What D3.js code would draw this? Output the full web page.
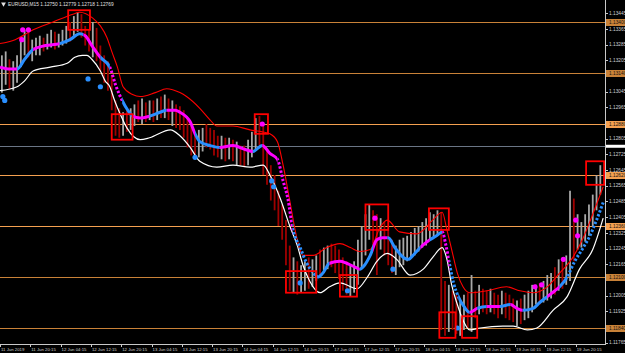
<!DOCTYPE html>
<html>
<head>
<meta charset="utf-8">
<script src="https://cdn.jsdelivr.net/npm/d3@7"></script>
<style>
  html, body { margin: 0; padding: 0; background: #000; overflow: hidden; }
  svg { display: block; }
</style>
</head>
<body>
<svg id="chart" width="625" height="353"></svg>
<script>
// ---- data ----
const title = 'EURUSD,M15  1.12750 1.12779 1.12718 1.12769';
const timeIdx = [0, 32, 64, 96, 128, 160, 192, 224, 256, 288, 320, 352, 384, 416, 448, 480, 512, 544, 576, 608];
const timeLabels = ['11 Jun 2019', '11 Jun 20:15', '12 Jun 04:15', '12 Jun 12:15', '12 Jun 20:15', '13 Jun 04:15',
  '13 Jun 12:15', '13 Jun 20:15', '14 Jun 04:15', '14 Jun 12:15', '14 Jun 20:15', '17 Jun 04:15', '17 Jun 12:15',
  '17 Jun 20:15', '18 Jun 04:15', '18 Jun 12:15', '18 Jun 20:15', '19 Jun 04:15', '19 Jun 12:15', '19 Jun 20:15'];
const priceTicks = [1.11765, 1.11845, 1.11925, 1.12005, 1.12085, 1.12165, 1.12245, 1.12325, 1.12405, 1.12485, 1.12565,
  1.12645, 1.12725, 1.12805, 1.12885, 1.12965, 1.13045, 1.13125, 1.13205, 1.13285, 1.13365, 1.13445];
const levels = [1.13400, 1.13140, 1.12880, 1.12620, 1.12360, 1.12100, 1.11840];
const levelBright = [false, false, true, true, true, false, false];
const bidPrice = 1.12769;

// hourly-ish bars (each one drawn at M15 index k*4+2)
const barHigh = [
  1.1323,1.1325,1.1321,1.1320,1.1323,1.1332,1.1336,1.1335,1.1331,1.1332,
  1.1333,1.1332,1.1334,1.1336,1.1335,1.1334,1.1336,1.1338,1.1340,1.1343,
  1.1345,1.1344,1.1338,1.1336,1.1340,1.1337,1.1328,1.1323,1.1320,1.1313,
  1.1300,1.1296,1.1294,1.1295,1.1296,1.1298,1.1300,1.1301,1.1299,1.1300,
  1.1300,1.1301,1.1302,1.1303,1.1301,1.1300,1.1298,1.1297,1.1295,1.1291,
  1.1287,1.1284,1.1285,1.1286,1.1288,1.1286,1.1285,1.1282,1.1282,1.1281,
  1.1281,1.1280,1.1279,1.1277,1.1277,1.1280,1.1284,1.1291,1.1292,1.1287,
  1.1275,1.1267,1.1262,1.1254,1.1247,1.1239,1.1226,1.1220,1.1218,1.1216,
  1.1218,1.1220,1.1219,1.1221,1.1224,1.1225,1.1226,1.1227,1.1226,1.1224,
  1.1220,1.1218,1.1216,1.1218,1.1229,1.1236,1.1242,1.1247,1.1244,1.1242,
  1.1240,1.1238,1.1234,1.1229,1.1226,1.1229,1.1230,1.1231,1.1233,1.1235,
  1.1236,1.1238,1.1240,1.1243,1.1242,1.1244,1.1243,1.1208,1.1206,1.1203,
  1.1201,1.1198,1.1201,1.1202,1.1211,1.1203,1.1206,1.1204,1.1203,1.1204,
  1.1202,1.1201,1.1203,1.1202,1.1201,1.1199,1.1198,1.1199,1.1201,1.1203,
  1.1206,1.1206,1.1207,1.1208,1.1211,1.1212,1.1215,1.1219,1.1220,1.1221,
  1.1254,1.1250,1.1242,1.1238,1.1242,1.1247,1.1252,1.1262,1.1267];
const barLow = [
  1.1304,1.1308,1.1306,1.1305,1.1309,1.1317,1.1323,1.1322,1.1320,1.1323,
  1.1323,1.1325,1.1326,1.1327,1.1326,1.1327,1.1328,1.1329,1.1330,1.1332,
  1.1335,1.1332,1.1328,1.1325,1.1322,1.1320,1.1315,1.1309,1.1305,1.1295,
  1.1282,1.1281,1.1282,1.1284,1.1285,1.1287,1.1289,1.1288,1.1289,1.1290,
  1.1289,1.1290,1.1291,1.1291,1.1290,1.1287,1.1286,1.1285,1.1281,1.1276,
  1.1272,1.1270,1.1271,1.1274,1.1276,1.1275,1.1272,1.1271,1.1270,1.1269,
  1.1270,1.1269,1.1267,1.1267,1.1266,1.1267,1.1271,1.1275,1.1277,1.1262,
  1.1257,1.1249,1.1244,1.1236,1.1229,1.1216,1.1203,1.1202,1.1201,1.1202,
  1.1203,1.1204,1.1205,1.1208,1.1211,1.1212,1.1214,1.1215,1.1212,1.1209,
  1.1203,1.1201,1.1200,1.1202,1.1206,1.1214,1.1221,1.1229,1.1226,1.1211,
  1.1224,1.1221,1.1216,1.1212,1.1211,1.1215,1.1216,1.1218,1.1220,1.1221,
  1.1223,1.1225,1.1226,1.1229,1.1230,1.1231,1.1183,1.1180,1.1182,1.1183,
  1.1181,1.1180,1.1183,1.1184,1.1182,1.1189,1.1191,1.1192,1.1191,1.1192,
  1.1191,1.1189,1.1191,1.1189,1.1188,1.1187,1.1185,1.1186,1.1188,1.1189,
  1.1192,1.1196,1.1196,1.1197,1.1198,1.1199,1.1201,1.1203,1.1204,1.1206,
  1.1208,1.1218,1.1224,1.1225,1.1228,1.1231,1.1236,1.1244,1.1252];
const barClose = [
  1.1316,1.1320,1.1310,1.1315,1.1321,1.1328,1.1331,1.1326,1.1327,1.1329,
  1.1330,1.1328,1.1331,1.1333,1.1329,1.1331,1.1332,1.1335,1.1334,1.1339,
  1.1341,1.1336,1.1331,1.1328,1.1333,1.1323,1.1318,1.1315,1.1308,1.1300,
  1.1287,1.1285,1.1290,1.1287,1.1293,1.1294,1.1291,1.1295,1.1294,1.1296,
  1.1294,1.1298,1.1295,1.1299,1.1294,1.1296,1.1291,1.1290,1.1286,1.1280,
  1.1277,1.1275,1.1280,1.1282,1.1281,1.1279,1.1277,1.1275,1.1276,1.1274,
  1.1276,1.1272,1.1275,1.1271,1.1270,1.1275,1.1280,1.1286,1.1285,1.1270,
  1.1262,1.1254,1.1250,1.1242,1.1234,1.1220,1.1208,1.1214,1.1206,1.1211,
  1.1212,1.1208,1.1215,1.1218,1.1216,1.1220,1.1221,1.1219,1.1218,1.1214,
  1.1208,1.1206,1.1209,1.1214,1.1221,1.1231,1.1236,1.1242,1.1234,1.1229,
  1.1233,1.1226,1.1221,1.1218,1.1220,1.1221,1.1224,1.1226,1.1229,1.1230,
  1.1231,1.1233,1.1235,1.1236,1.1238,1.1240,1.1198,1.1193,1.1196,1.1189,
  1.1188,1.1191,1.1196,1.1193,1.1198,1.1196,1.1199,1.1198,1.1196,1.1198,
  1.1197,1.1196,1.1199,1.1194,1.1192,1.1191,1.1193,1.1191,1.1196,1.1199,
  1.1201,1.1203,1.1202,1.1204,1.1206,1.1208,1.1207,1.1214,1.1211,1.1216,
  1.1239,1.1226,1.1230,1.1233,1.1236,1.1242,1.1247,1.1257,1.1262];

// moving average [M15 index, price]
const maLine = [[0,1.1317],[11,1.1316],[18,1.1316],[26,1.1321],[35,1.1326],[48,1.1328],[63,1.1329],[74,1.1331],[84,1.1334],[90,1.1333],
  [97,1.1328],[106,1.1322],[116,1.1317],[122,1.1308],[129,1.1300],[135,1.1295],[140,1.1292],[148,1.1291],[158,1.1292],[169,1.1294],
  [176,1.1295],[185,1.1295],[190,1.1294],[201,1.1289],[206,1.1283],[211,1.1279],[222,1.1277],[232,1.1276],[246,1.1277],[259,1.1275],
  [267,1.1274],[277,1.1277],[285,1.1273],[293,1.1270],[299,1.1259],[304,1.1250],[309,1.1235],[317,1.1225],[324,1.1217],[331,1.1212],
  [336,1.1210],[341,1.1212],[348,1.1217],[359,1.1218],[366,1.1217],[375,1.1215],[380,1.1214],[385,1.1216],[391,1.1221],[398,1.1229],
  [404,1.1230],[410,1.1230],[417,1.1225],[426,1.1220],[431,1.1219],[438,1.1222],[446,1.1226],[454,1.1229],[461,1.1231],[467,1.1233],
  [471,1.1226],[475,1.1216],[479,1.1207],[484,1.1200],[490,1.1195],[496,1.1192],[504,1.1194],[514,1.1195],[528,1.1195],[539,1.1196],
  [546,1.1194],[552,1.1193],[563,1.1194],[570,1.1197],[578,1.1200],[586,1.1203],[591,1.1205],[599,1.1210],[607,1.1218],[616,1.1225],
  [623,1.1231],[630,1.1239],[637,1.1248]];
// colour runs of the moving average: [from index, to index, colour, dotted]
const maRuns = [[0,18,'m',0],[18,35,'b',0],[35,63,'m',0],[63,88,'b',0],[88,106,'m',0],[106,116,'b',0],[116,129,'m',1],[129,140,'b',0],
  [140,158,'m',0],[158,176,'b',0],[176,206,'m',0],[206,232,'b',0],[232,267,'m',0],[267,277,'b',0],[277,293,'m',0],[293,309,'m',1],
  [309,333,'b',1],[333,348,'b',0],[348,380,'m',0],[380,394,'b',0],[394,409,'m',0],[409,444,'b',0],[444,454,'m',0],[454,467,'b',0],
  [467,475,'m',1],[475,484,'b',1],[484,496,'b',0],[496,504,'m',0],[504,514,'b',0],[514,528,'m',0],[528,539,'b',0],[539,552,'m',0],
  [552,578,'b',0],[578,591,'m',0],[591,599,'b',0],[599,640,'b',1]];

const upperBand = [[0,1.1329],[16,1.1331],[35,1.1336],[56,1.1340],[77,1.1344],[84,1.1345],[98,1.1342],[106,1.1338],[113,1.1332],[118,1.1325],
  [124,1.1317],[130,1.1307],[140,1.1303],[148,1.1302],[164,1.1304],[176,1.1306],[190,1.1304],[197,1.1302],[211,1.1296],[222,1.1290],
  [229,1.1287],[246,1.1287],[264,1.1285],[277,1.1284],[285,1.1283],[293,1.1279],[299,1.1267],[306,1.1249],[313,1.1231],[320,1.1221],
  [331,1.1221],[345,1.1225],[359,1.1227],[370,1.1225],[380,1.1223],[391,1.1224],[401,1.1235],[409,1.1239],[422,1.1233],[440,1.1232],
  [457,1.1239],[467,1.1243],[472,1.1234],[477,1.1224],[483,1.1212],[489,1.1205],[496,1.1202],[514,1.1203],[535,1.1205],[549,1.1203],
  [563,1.1202],[578,1.1205],[591,1.1212],[605,1.1220],[616,1.1230],[626,1.1242],[637,1.1256]];
const lowerBand = [[0,1.1305],[18,1.1307],[26,1.1310],[35,1.1315],[53,1.1317],[71,1.1319],[79,1.1322],[87,1.1323],[92,1.1323],[97,1.1321],
  [106,1.1315],[111,1.1310],[116,1.1307],[121,1.1300],[127,1.1293],[134,1.1286],[148,1.1280],[158,1.1281],[180,1.1285],[190,1.1282],
  [201,1.1276],[211,1.1269],[229,1.1266],[246,1.1267],[264,1.1266],[278,1.1267],[285,1.1262],[296,1.1250],[306,1.1236],[314,1.1226],
  [320,1.1216],[327,1.1208],[338,1.1202],[348,1.1205],[359,1.1207],[377,1.1204],[388,1.1210],[398,1.1218],[409,1.1222],[419,1.1219],
  [433,1.1211],[447,1.1214],[457,1.1220],[467,1.1225],[472,1.1219],[477,1.1206],[483,1.1196],[489,1.1188],[496,1.1183],[507,1.1184],
  [531,1.1185],[542,1.1185],[557,1.1183],[567,1.1184],[584,1.1193],[599,1.1200],[612,1.1214],[626,1.1224],[637,1.1240]];

// signal dots [colour, index, price]
const signals = [['m',24,1.1336],['m',30,1.1336],['m',23,1.1331],['b',3,1.1302],['b',5,1.1300],['b',93,1.1311],['b',106,1.1307],
  ['b',206,1.1271],['m',277,1.1288],['b',287,1.1259],['b',289,1.1256],['b',317,1.1207],['b',367,1.1203],['m',396,1.1240],
  ['b',415,1.1214],['b',483,1.1184],['m',565,1.1205],['m',572,1.1206],['m',595,1.1219],['m',608,1.1239],['m',610,1.1231]];

// red boxes [from index, to index, top price, bottom price]
const boxes = [[72,95,1.1346,1.1336],[118,140,1.1293,1.1280],[269,283,1.1293,1.1283],[302,334,1.1213,1.1202],[359,377,1.1211,1.1200],
  [386,410,1.1247,1.1234],[453,474,1.1245,1.1234],[464,481,1.1192,1.1179],[488,504,1.1190,1.1179],[619,638,1.1269,1.1257]];

// ---- drawing ----
const W = 625, H = 353;
const AXIS_X = 605, AXIS_Y = 344, TOP = 9;
const COLORS = { m: '#ff00ff', b: '#2a8fff' };
const FONT = '"Liberation Sans", Arial, sans-serif';

const svg = d3.select('#chart');
svg.append('rect').attr('width', W).attr('height', H).attr('fill', '#000');

const x = d3.scaleLinear().domain([0, 640]).range([0, 606]);
const y = d3.scaleLinear().domain([1.11840, 1.13400]).range([328, 22]);

const defs = svg.append('defs');
defs.append('clipPath').attr('id', 'plot')
  .append('rect').attr('x', 0).attr('y', TOP).attr('width', AXIS_X).attr('height', AXIS_Y - TOP);

const g = svg.append('g').attr('clip-path', 'url(#plot)');

// horizontal levels
g.selectAll('.level').data(levels).enter().append('line')
  .attr('x1', 0).attr('x2', AXIS_X)
  .attr('y1', d => Math.round(y(d)) + 0.5).attr('y2', d => Math.round(y(d)) + 0.5)
  .attr('stroke', (d, i) => levelBright[i] ? '#f4a050' : '#c98238')
  .attr('stroke-width', 1.2);

g.append('line')
  .attr('x1', 0).attr('x2', AXIS_X)
  .attr('y1', Math.round(y(bidPrice)) + 0.5).attr('y2', Math.round(y(bidPrice)) + 0.5)
  .attr('stroke', '#6a7585').attr('stroke-width', 1);

// bars
const bars = barClose.map((c, k) => ({
  i: k * 4 + 2, h: barHigh[k], l: barLow[k], c, o: k > 0 ? barClose[k - 1] : c
}));
g.selectAll('.bar').data(bars).enter().append('line')
  .attr('x1', d => x(d.i)).attr('x2', d => x(d.i))
  .attr('y1', d => y(d.h)).attr('y2', d => y(d.l))
  .attr('stroke', d => d.c >= d.o ? '#a8a8a8' : '#a00000')
  .attr('stroke-width', 1.8);

// bands
const line = d3.line().x(d => x(d[0])).y(d => y(d[1])).curve(d3.curveMonotoneX);
g.append('path').datum(upperBand).attr('d', line)
  .attr('fill', 'none').attr('stroke', '#ff0000').attr('stroke-width', 1.1);
g.append('path').datum(lowerBand).attr('d', line)
  .attr('fill', 'none').attr('stroke', '#ffffff').attr('stroke-width', 1.2);

// moving average, coloured run by run
maRuns.forEach(([i0, i1, col, dotted], n) => {
  defs.append('clipPath').attr('id', 'ma' + n)
    .append('rect').attr('x', x(i0)).attr('y', 0).attr('width', x(i1) - x(i0)).attr('height', H);
  g.append('g').attr('clip-path', `url(#ma${n})`)
    .append('path').datum(maLine).attr('d', line)
    .attr('fill', 'none')
    .attr('stroke', COLORS[col])
    .attr('stroke-width', 3)
    .attr('stroke-dasharray', dotted ? '2.4 1.8' : null);
});

// signal dots
g.selectAll('.sig').data(signals).enter().append('circle')
  .attr('cx', d => x(d[1])).attr('cy', d => y(d[2]))
  .attr('r', 2.6)
  .attr('fill', d => COLORS[d[0]]);

// red boxes
g.selectAll('.box').data(boxes).enter().append('rect')
  .attr('x', d => x(d[0])).attr('y', d => y(d[2]))
  .attr('width', d => x(d[1]) - x(d[0]))
  .attr('height', d => y(d[3]) - y(d[2]))
  .attr('fill', 'none').attr('stroke', '#ff0000').attr('stroke-width', 1.8);

// axes
svg.append('line').attr('x1', AXIS_X + 0.5).attr('x2', AXIS_X + 0.5).attr('y1', 0).attr('y2', AXIS_Y)
  .attr('stroke', '#c8c8c8').attr('stroke-width', 1);
svg.append('line').attr('x1', 0).attr('x2', AXIS_X + 1).attr('y1', AXIS_Y + 0.5).attr('y2', AXIS_Y + 0.5)
  .attr('stroke', '#c8c8c8').attr('stroke-width', 1);

// price ticks; the ones sitting under a level label are hidden by it
const freeTicks = priceTicks.filter(t => levels.every(l => Math.abs(y(t) - y(l)) > 4.5));
const yt = svg.append('g');
yt.selectAll('line').data(priceTicks).enter().append('line')
  .attr('x1', AXIS_X).attr('x2', AXIS_X + 3)
  .attr('y1', d => Math.round(y(d)) + 0.5).attr('y2', d => Math.round(y(d)) + 0.5)
  .attr('stroke', '#c8c8c8');
yt.selectAll('text').data(freeTicks).enter().append('text')
  .attr('x', AXIS_X + 4).attr('y', d => y(d) + 1.7)
  .attr('font-family', FONT).attr('font-size', 4.8).attr('fill', '#d0d0d0')
  .text(d => d.toFixed(5));

// level labels
const lv = svg.append('g');
levels.forEach((p, i) => {
  const yy = Math.round(y(p)) + 0.5;
  lv.append('rect').attr('x', AXIS_X + 1).attr('y', yy - 3.5).attr('width', W - AXIS_X - 1).attr('height', 7)
    .attr('fill', levelBright[i] ? '#f4a050' : '#c98238');
  lv.append('text').attr('x', AXIS_X + 4).attr('y', yy + 1.8)
    .attr('font-family', FONT).attr('font-size', 4.8).attr('fill', '#111')
    .text(p.toFixed(5));
});
lv.append('rect').attr('x', AXIS_X + 1).attr('y', y(bidPrice) - 1).attr('width', W - AXIS_X - 1).attr('height', 3)
  .attr('fill', '#ffffff');

// time axis
const xt = svg.append('g');
xt.selectAll('line').data(timeIdx).enter().append('line')
  .attr('x1', d => Math.round(x(d)) + 0.5).attr('x2', d => Math.round(x(d)) + 0.5)
  .attr('y1', AXIS_Y).attr('y2', AXIS_Y + 3)
  .attr('stroke', '#c8c8c8');
xt.selectAll('text').data(timeIdx).enter().append('text')
  .attr('x', d => x(d) + 1).attr('y', 351)
  .attr('font-family', FONT).attr('font-size', 4.3).attr('fill', '#d0d0d0')
  .text((d, i) => timeLabels[i]);

// title
svg.append('path').attr('d', d3.symbol(d3.symbolTriangle, 10)())
  .attr('transform', 'translate(3.5,4) rotate(180)').attr('fill', '#e0e0e0');
svg.append('text').attr('x', 8).attr('y', 6)
  .attr('font-family', FONT).attr('font-size', 4.8).attr('fill', '#e0e0e0')
  .text(title);
</script>
</body>
</html>
